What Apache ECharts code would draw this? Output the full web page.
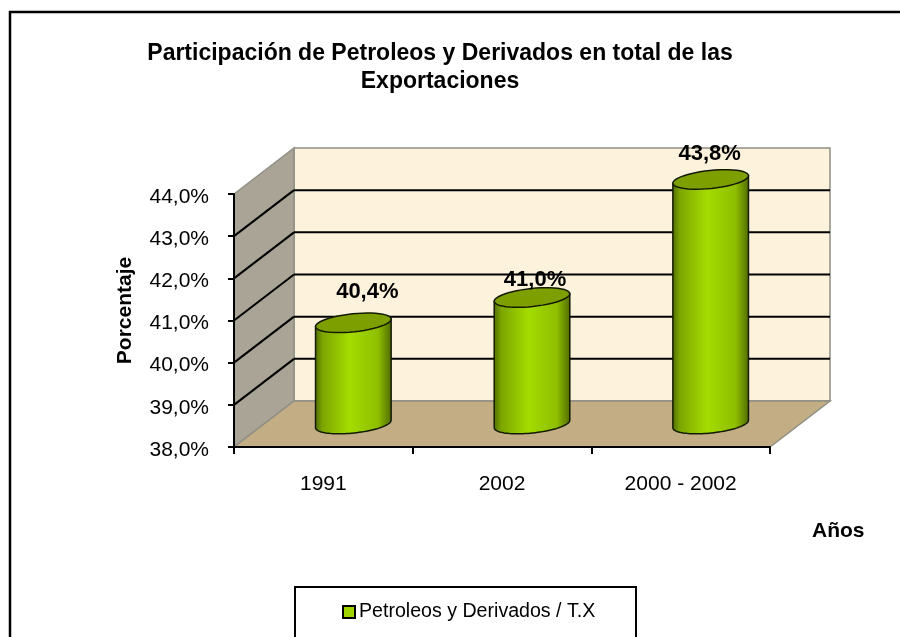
<!DOCTYPE html>
<html>
<head>
<meta charset="utf-8">
<style>
  html, body { margin: 0; padding: 0; background: #fff; }
  #chart { width: 900px; height: 637px; }
</style>
<script src="https://cdn.jsdelivr.net/npm/echarts@6/dist/echarts.min.js"></script>
</head>
<body>
<div id="chart"></div>
<script>
const categories = ['1991', '2002', '2000 - 2002'];
const petroleos = [40.4, 41.0, 43.8];
const yTicks = [38, 39, 40, 41, 42, 43, 44];

// layout of the fake 3D box, in pixels
const DEPTH_X = 60;
const DEPTH_Y = -46;
const TILT = -6 * Math.PI / 180;
// data labels were moved by hand in the original
const labelNudge = [[14, -31], [3, -18], [-1, -25]];

const fontFamily = '"Liberation Sans", Arial, sans-serif';
const seriesName = 'Petroleos y Derivados / T.X';
const pct = v => v.toFixed(1).replace('.', ',') + '%';

const poly = (points, style) => ({ type: 'polygon', shape: { points }, style });
const line = (a, b, stroke, lineWidth) => ({
  type: 'line',
  shape: { x1: a[0], y1: a[1], x2: b[0], y2: b[1] },
  style: { stroke, lineWidth }
});

const renderBox = (params, api) => {
  const c = params.coordSys;
  const x0 = c.x;
  const x1 = c.x + c.width;
  const yBase = api.coord([0, yTicks[0]])[1];
  const yTop = api.coord([0, yTicks[yTicks.length - 1]])[1];
  const bx0 = x0 + DEPTH_X;
  const bx1 = x1 + DEPTH_X;
  const edge = { stroke: '#8f8f84', lineWidth: 1.5 };
  const children = [
    poly([[bx0, yTop + DEPTH_Y], [bx1, yTop + DEPTH_Y], [bx1, yBase + DEPTH_Y], [bx0, yBase + DEPTH_Y]],
      { fill: '#fdf2dc', ...edge }),
    poly([[x0, yBase], [x0, yTop], [bx0, yTop + DEPTH_Y], [bx0, yBase + DEPTH_Y]],
      { fill: '#a9a496', ...edge }),
    poly([[x0, yBase], [bx0, yBase + DEPTH_Y], [bx1, yBase + DEPTH_Y], [x1, yBase]],
      { fill: '#c3ad84', ...edge })
  ];
  yTicks.slice(1, -1).forEach(t => {
    const y = api.coord([0, t])[1];
    children.push(line([x0, y], [bx0, y + DEPTH_Y], '#000', 2));
    children.push(line([bx0, y + DEPTH_Y], [bx1, y + DEPTH_Y], '#000', 2));
  });
  return { type: 'group', children };
};

const ellipsePoint = (cx, cy, rx, ry, t) => {
  const px = rx * Math.cos(t);
  const py = ry * Math.sin(t);
  return [
    cx + px * Math.cos(TILT) - py * Math.sin(TILT),
    cy + px * Math.sin(TILT) + py * Math.cos(TILT)
  ];
};

const arc = (cx, cy, rx, ry, from, to) => {
  const pts = [];
  for (let i = 0; i <= 48; i++) {
    pts.push(ellipsePoint(cx, cy, rx, ry, from + (to - from) * i / 48));
  }
  return pts;
};

const renderCylinder = (params, api) => {
  const i = api.value(0);
  const value = api.value(1);
  const top = api.coord([i, value]);
  const base = api.coord([i, yTicks[0]]);
  const band = api.size([1, 0])[0];
  const rx = band * 0.2127;
  const ry = 9;
  const cx = top[0] + DEPTH_X / 2;
  const topY = top[1] + DEPTH_Y / 2;
  const baseY = base[1] + DEPTH_Y / 2;

  const bodyPoints = arc(cx, baseY, rx, ry, 0, Math.PI)
    .concat([ellipsePoint(cx, topY, rx, ry, Math.PI), ellipsePoint(cx, topY, rx, ry, 0)]);
  const nudge = labelNudge[params.dataIndex];

  return {
    type: 'group',
    children: [
      poly(bodyPoints, {
        fill: new echarts.graphic.LinearGradient(0, 0, 1, 0, [
          { offset: 0, color: '#4f6a00' },
          { offset: 0.1, color: '#7ca500' },
          { offset: 0.45, color: '#a4dc00' },
          { offset: 0.82, color: '#8fbf00' },
          { offset: 1, color: '#4f6a00' }
        ]),
        stroke: '#141a00',
        lineWidth: 1.5
      }),
      poly(arc(cx, topY, rx, ry, 0, 2 * Math.PI), {
        fill: '#7e9f00',
        stroke: '#141a00',
        lineWidth: 1.5
      }),
      {
        type: 'text',
        style: {
          x: cx + nudge[0],
          y: topY + nudge[1],
          text: pct(value),
          fill: '#000',
          font: 'bold 22px ' + fontFamily,
          align: 'center',
          verticalAlign: 'middle'
        }
      }
    ]
  };
};

const chart = echarts.init(document.getElementById('chart'), null, { renderer: 'canvas' });

chart.setOption({
  animation: false,
  backgroundColor: '#fff',
  title: {
    text: 'Participación de Petroleos y Derivados en total de las\nExportaciones',
    left: 435,
    top: 35,
    textAlign: 'center',
    textStyle: {
      fontFamily,
      fontSize: 23,
      fontWeight: 'bold',
      color: '#000',
      lineHeight: 28
    }
  },
  grid: { left: 234, top: 194, width: 536, height: 253 },
  legend: {
    left: 342,
    top: 602,
    padding: 0,
    itemWidth: 12,
    itemHeight: 12,
    itemGap: 0,
    data: [{ name: seriesName, icon: 'rect' }],
    itemStyle: { color: '#a0d400', borderColor: '#000', borderWidth: 2 },
    textStyle: { fontFamily, fontSize: 19.6, color: '#000', padding: [0, 0, 0, -1] }
  },
  xAxis: {
    type: 'category',
    data: categories,
    z: 5,
    name: 'Años',
    nameLocation: 'end',
    nameGap: 42,
    nameTextStyle: {
      fontFamily,
      fontSize: 21,
      fontWeight: 'bold',
      color: '#000',
      verticalAlign: 'top',
      padding: [74, 0, 0, 0]
    },
    axisLine: { show: true, lineStyle: { color: '#000', width: 2 } },
    axisTick: { show: true, length: 7, inside: false, lineStyle: { color: '#000', width: 2 } },
    axisLabel: { color: '#000', fontFamily, fontSize: 21, margin: 27 }
  },
  yAxis: {
    type: 'value',
    min: 38,
    max: 44,
    interval: 1,
    z: 5,
    name: 'Porcentaje',
    nameLocation: 'middle',
    nameGap: 98,
    nameRotate: 90,
    nameTextStyle: {
      fontFamily,
      fontSize: 21,
      fontWeight: 'bold',
      color: '#000',
      padding: [0, 0, 0, 20]
    },
    splitLine: { show: false },
    axisLine: { show: true, lineStyle: { color: '#000', width: 2 } },
    axisTick: { show: true, length: 6, lineStyle: { color: '#000', width: 2 } },
    axisLabel: {
      margin: 25,
      formatter: v => '{t|' + pct(v) + '}',
      rich: {
        t: { color: '#000', fontFamily, fontSize: 21, padding: [6, 0, 0, 0] }
      }
    }
  },
  graphic: [
    {
      type: 'polyline',
      shape: { points: [[10, 637], [10, 12], [900, 12]] },
      style: { fill: 'none', stroke: '#000', lineWidth: 2.5 }
    },
    {
      type: 'polyline',
      shape: { points: [[295, 637], [295, 587], [636, 587], [636, 637]] },
      style: { fill: 'none', stroke: '#000', lineWidth: 2 }
    }
  ],
  series: [
    {
      type: 'custom',
      name: 'caja',
      silent: true,
      renderItem: renderBox,
      data: [[0, yTicks[0]]],
      z: 1
    },
    {
      type: 'custom',
      name: seriesName,
      renderItem: renderCylinder,
      itemStyle: { color: '#a0d400' },
      encode: { x: 0, y: 1 },
      data: petroleos.map((v, i) => [i, v]),
      z: 3
    }
  ]
});
</script>
</body>
</html>
